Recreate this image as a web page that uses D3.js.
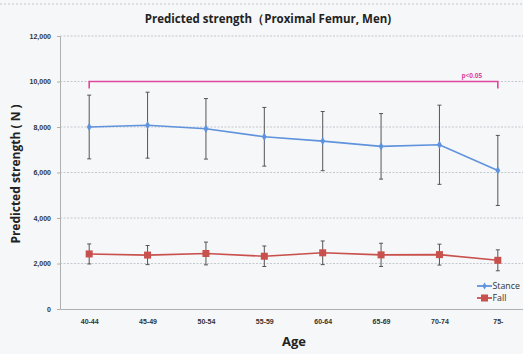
<!DOCTYPE html>
<html>
<head>
<meta charset="utf-8">
<script src="https://cdn.jsdelivr.net/npm/d3@7"></script>
<style>
  body { margin: 0; background: #f6f7f8; }
  svg { font-family: "Open Sans", "DejaVu Sans", sans-serif; }
</style>
</head>
<body>
<div id="chart"></div>
<script>
  var ages = ["40-44", "45-49", "50-54", "55-59", "60-64", "65-69", "70-74", "75-"];
  var stance = [8000, 8080, 7920, 7570, 7380, 7150, 7220, 6090];
  var stanceErr = [1400, 1450, 1330, 1290, 1300, 1440, 1740, 1540];
  var fall = [2420, 2370, 2440, 2320, 2470, 2380, 2390, 2140];
  var fallErr = [440, 420, 500, 450, 520, 510, 460, 460];
  var yTicks = [0, 2000, 4000, 6000, 8000, 10000, 12000];
  var sigLevel = 10000;
  var sigLabel = "p<0.05";

  var width = 523;
  var height = 354;
  var plotLeft = 60, plotRight = 527, plotTop = 36, plotBottom = 309;

  var svg = d3.select("#chart").append("svg")
    .attr("width", width)
    .attr("height", height);

  // dotted frame line at the top of the scan
  svg.append("line")
    .attr("x1", 0).attr("x2", width).attr("y1", 4).attr("y2", 4)
    .attr("stroke", "#c8c8c8").attr("stroke-dasharray", "2,2");

  var xScale = d3.scalePoint().domain(ages).range([plotLeft, plotRight]).padding(0.5);
  var yScale = d3.scaleLinear().domain([0, 12000]).range([plotBottom, plotTop]);

  // grid
  svg.append("g")
    .selectAll("line")
    .data(yTicks.slice(1))
    .join("line")
    .attr("x1", plotLeft).attr("x2", plotRight)
    .attr("y1", d => yScale(d)).attr("y2", d => yScale(d))
    .attr("stroke", "#b8bcc4").attr("stroke-width", 0.8)
    .attr("stroke-dasharray", "2,1.5");

  var yAxis = d3.axisLeft(yScale)
    .tickValues(yTicks)
    .tickFormat(d3.format(","))
    .tickSize(3);
  var gy = svg.append("g").attr("transform", "translate(" + plotLeft + ",0)").call(yAxis);
  gy.select(".domain").attr("stroke", "#b0b0b0");
  gy.selectAll(".tick line").attr("stroke", "#b0b0b0");
  gy.selectAll("text").attr("font-size", 7).attr("font-weight", "bold").attr("fill", "#333").attr("dx", -3);

  var xAxis = d3.axisBottom(xScale).tickSize(0).tickPadding(10);
  var gx = svg.append("g").attr("transform", "translate(0," + plotBottom + ")").call(xAxis);
  gx.select(".domain").attr("stroke", "#b0b0b0");
  gx.selectAll("text").attr("font-size", 7).attr("font-weight", "bold").attr("fill", "#333");

  // significance bracket
  var bx1 = xScale(ages[0]), bx2 = xScale(ages[ages.length - 1]), by = yScale(sigLevel);
  svg.append("path")
    .attr("d", "M" + bx1 + "," + (by + 7) + "V" + by + "H" + bx2 + "V" + (by + 7))
    .attr("fill", "none").attr("stroke", "#e0479e").attr("stroke-width", 1.6);
  svg.append("text")
    .attr("x", bx2 - 26).attr("y", by - 4)
    .attr("text-anchor", "middle")
    .attr("font-size", 6.5).attr("font-weight", "bold").attr("fill", "#e0479e")
    .text(sigLabel);

  function drawSeries(values, errs, color, marker) {
    var g = svg.append("g");
    g.selectAll("line.err")
      .data(values)
      .join("line")
      .attr("class", "err")
      .attr("x1", (d, i) => xScale(ages[i])).attr("x2", (d, i) => xScale(ages[i]))
      .attr("y1", (d, i) => yScale(d + errs[i])).attr("y2", (d, i) => yScale(d - errs[i]))
      .attr("stroke", "#555").attr("stroke-width", 1);
    [1, -1].forEach(function(s) {
      g.selectAll("line.cap" + (s > 0 ? "u" : "d"))
        .data(values)
        .join("line")
        .attr("class", "cap" + (s > 0 ? "u" : "d"))
        .attr("x1", (d, i) => xScale(ages[i]) - 2).attr("x2", (d, i) => xScale(ages[i]) + 2)
        .attr("y1", (d, i) => yScale(d + s * errs[i])).attr("y2", (d, i) => yScale(d + s * errs[i]))
        .attr("stroke", "#555").attr("stroke-width", 1);
    });
    g.append("path")
      .datum(values)
      .attr("fill", "none").attr("stroke", color).attr("stroke-width", 1.6)
      .attr("d", d3.line().x((d, i) => xScale(ages[i])).y(d => yScale(d)));
    if (marker == "square") {
      g.selectAll("rect")
        .data(values)
        .join("rect")
        .attr("x", (d, i) => xScale(ages[i]) - 3.5).attr("y", d => yScale(d) - 3.5)
        .attr("width", 7).attr("height", 7)
        .attr("fill", color);
    } else {
      g.selectAll("path.m")
        .data(values)
        .join("path")
        .attr("class", "m")
        .attr("transform", (d, i) => "translate(" + xScale(ages[i]) + "," + yScale(d) + ")")
        .attr("d", d3.symbol(d3.symbolDiamond, 20))
        .attr("fill", color);
    }
  }

  drawSeries(fall, fallErr, "#c8504d", "square");
  drawSeries(stance, stanceErr, "#5f93dd", "diamond");

  // legend
  var legend = [["Stance", "#5f93dd", "diamond"], ["Fall", "#c8504d", "square"]];
  legend.forEach(function(l, i) {
    var ly = 286 + i * 12;
    svg.append("line").attr("x1", 477).attr("x2", 492).attr("y1", ly).attr("y2", ly)
      .attr("stroke", l[1]).attr("stroke-width", 1.8);
    if (l[2] == "square") {
      svg.append("rect").attr("x", 481).attr("y", ly - 3.5).attr("width", 7).attr("height", 7).attr("fill", l[1]);
    } else {
      svg.append("path").attr("transform", "translate(484.5," + ly + ")")
        .attr("d", d3.symbol(d3.symbolDiamond, 14)).attr("fill", l[1]);
    }
    svg.append("text").attr("x", 492.5).attr("y", ly + 3.2)
      .attr("font-size", 8.8).attr("fill", "#333").text(l[0]);
  });

  svg.append("text")
    .attr("x", 268).attr("y", 23)
    .attr("text-anchor", "middle")
    .attr("font-size", 11.5).attr("font-weight", "bold").attr("fill", "#222")
    .text("Predicted strength（Proximal Femur, Men)");

  svg.append("text")
    .attr("transform", "translate(20,174) rotate(-90)")
    .attr("text-anchor", "middle")
    .attr("font-size", 12).attr("font-weight", "bold").attr("fill", "#222")
    .text("Predicted strength ( N )");

  svg.append("text")
    .attr("x", 294).attr("y", 346)
    .attr("text-anchor", "middle")
    .attr("font-size", 13).attr("font-weight", "bold").attr("fill", "#222")
    .text("Age");
</script>
</body>
</html>
